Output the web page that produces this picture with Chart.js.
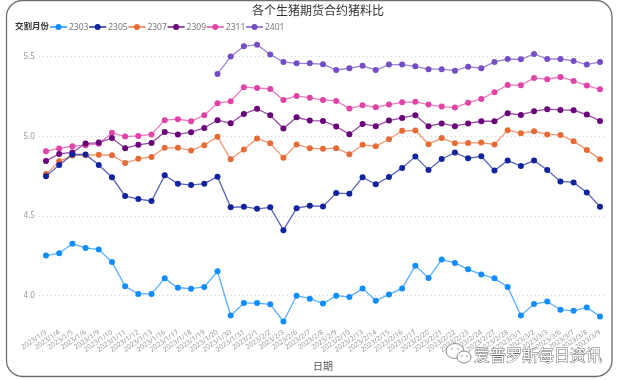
<!DOCTYPE html>
<html>
<head>
<meta charset="utf-8">
<script src="https://cdn.jsdelivr.net/npm/chart.js@4/dist/chart.umd.min.js"></script>
<style>
html,body{margin:0;padding:0;background:#fff;}
#wrap{position:relative;width:618px;height:380px;}
</style>
</head>
<body>
<div id="wrap"><canvas id="c" width="618" height="380"></canvas></div>
<script>
const categories = ["2023/1/3","2023/1/4","2023/1/5","2023/1/6","2023/1/9","2023/1/10","2023/1/11","2023/1/12","2023/1/13","2023/1/16","2023/1/17","2023/1/18","2023/1/19","2023/1/20","2023/1/30","2023/1/31","2023/2/1","2023/2/2","2023/2/3","2023/2/6","2023/2/7","2023/2/8","2023/2/9","2023/2/10","2023/2/13","2023/2/14","2023/2/15","2023/2/16","2023/2/17","2023/2/20","2023/2/21","2023/2/22","2023/2/23","2023/2/24","2023/2/27","2023/2/28","2023/3/1","2023/3/2","2023/3/3","2023/3/6","2023/3/7","2023/3/8","2023/3/9"];
const seriesNames = ["2303","2305","2307","2309","2311","2401"];
const s2303 = [4.252,4.267,4.326,4.300,4.290,4.212,4.059,4.011,4.011,4.109,4.050,4.044,4.055,4.153,3.876,3.954,3.954,3.946,3.838,4.000,3.981,3.951,4.000,3.992,4.046,3.968,4.008,4.046,4.189,4.111,4.227,4.206,4.166,4.134,4.109,4.055,3.876,3.948,3.963,3.912,3.905,3.926,3.869];
const s2305 = [4.750,4.821,4.887,4.887,4.821,4.744,4.626,4.607,4.595,4.756,4.704,4.695,4.704,4.748,4.555,4.559,4.546,4.555,4.412,4.550,4.565,4.561,4.645,4.641,4.744,4.700,4.746,4.803,4.874,4.790,4.859,4.899,4.863,4.876,4.786,4.849,4.815,4.849,4.790,4.718,4.712,4.649,4.559];
const s2307 = [4.764,4.845,4.881,4.883,4.885,4.883,4.833,4.860,4.872,4.929,4.929,4.912,4.946,4.998,4.858,4.918,4.987,4.958,4.866,4.950,4.927,4.923,4.927,4.889,4.948,4.939,4.983,5.036,5.038,4.952,4.990,4.958,4.960,4.962,4.950,5.040,5.021,5.033,5.013,5.010,4.971,4.916,4.858];
const s2309 = [4.847,4.891,4.900,4.956,4.962,4.990,4.927,4.948,4.960,5.029,5.013,5.027,5.054,5.103,5.084,5.142,5.174,5.134,5.050,5.121,5.100,5.098,5.063,5.015,5.079,5.065,5.100,5.117,5.134,5.065,5.082,5.065,5.082,5.096,5.096,5.146,5.136,5.159,5.172,5.167,5.165,5.138,5.098];
const s2311 = [4.908,4.925,4.939,4.946,4.954,5.023,5.000,5.004,5.013,5.103,5.109,5.096,5.134,5.209,5.222,5.310,5.305,5.299,5.230,5.255,5.243,5.230,5.224,5.176,5.197,5.184,5.201,5.215,5.218,5.201,5.188,5.182,5.213,5.236,5.278,5.324,5.322,5.368,5.360,5.374,5.349,5.320,5.297];
const s2401 = [null,null,null,null,null,null,null,null,null,null,null,null,null,5.393,5.502,5.567,5.577,5.515,5.469,5.460,5.460,5.454,5.418,5.429,5.444,5.418,5.452,5.452,5.441,5.423,5.423,5.414,5.439,5.429,5.469,5.487,5.485,5.519,5.487,5.487,5.475,5.452,5.469];
const yTicks = [4.0, 4.5, 5.0, 5.5];
const titleText = "各个生猪期货合约猪料比";
const legendTitle = "交割月份";
const xTitle = "日期";
const watermark = "爱普罗斯每日资讯";

const colors = ["#118DFF","#12239E","#E66C37","#6B007B","#E044A7","#744EC2"];
const allSeries = [s2303,s2305,s2307,s2309,s2311,s2401];
const FONT = "'Noto Sans','Noto Sans CJK SC',sans-serif";

function hexA(h,a){const r=parseInt(h.slice(1,3),16),g=parseInt(h.slice(3,5),16),b=parseInt(h.slice(5,7),16);return `rgba(${r},${g},${b},${a})`;}

const datasets = allSeries.map((d,i)=>({
  label: seriesNames[i],
  data: d,
  borderColor: hexA(colors[i],0.7),
  backgroundColor: colors[i],
  pointBackgroundColor: colors[i],
  pointBorderColor: colors[i],
  pointRadius: 3,
  pointBorderWidth: 0,
  borderWidth: 1.3,
  tension: 0,
  spanGaps: false
}));

const decor = {
  id: 'decor',
  beforeDraw(chart){
    const ctx = chart.ctx;
    ctx.save();
    ctx.fillStyle = '#fff';
    ctx.fillRect(0,0,chart.width,chart.height);
    ctx.restore();
  },
  afterDraw(chart){
    const ctx = chart.ctx;
    ctx.save();
    // frame
    ctx.strokeStyle = '#6e6e6e';
    ctx.lineWidth = 1.3;
    ctx.beginPath();
    ctx.roundRect(6.5, 0.5, 605.5, 376, 16);
    ctx.stroke();
    // title
    ctx.fillStyle = '#333';
    ctx.font = "12px " + FONT;
    ctx.textAlign = 'center';
    ctx.textBaseline = 'middle';
    ctx.fillText(titleText, 318, 12);
    // legend
    ctx.textAlign = 'left';
    ctx.font = "bold 8.5px " + FONT;
    ctx.fillStyle = '#333';
    ctx.fillText(legendTitle, 15, 27);
    ctx.font = "8.5px " + FONT;
    seriesNames.forEach((n,i)=>{
      const x = 50 + i*39.2;
      ctx.strokeStyle = colors[i];
      ctx.lineWidth = 1.4;
      ctx.beginPath(); ctx.moveTo(x,27); ctx.lineTo(x+17,27); ctx.stroke();
      ctx.fillStyle = colors[i];
      ctx.beginPath(); ctx.arc(x+8.5,27,3,0,Math.PI*2); ctx.fill();
      ctx.fillStyle = '#777';
      ctx.fillText(n, x+19, 27.5);
    });
    // watermark icon
    ctx.strokeStyle = '#888';
    ctx.fillStyle = 'rgba(255,255,255,0.9)';
    ctx.lineWidth = 1;
    ctx.beginPath(); ctx.ellipse(455,351,9,7.5,0,0,Math.PI*2); ctx.fill(); ctx.stroke();
    ctx.beginPath(); ctx.ellipse(464,357,7,6,0,0,Math.PI*2); ctx.fill(); ctx.stroke();
    ctx.fillStyle = '#888';
    [[452,349],[458,349],[462,356],[467,356]].forEach(p=>{ctx.beginPath();ctx.arc(p[0],p[1],0.8,0,Math.PI*2);ctx.fill();});
    // watermark text (outlined)
    ctx.font = "16px 'Noto Sans CJK SC',sans-serif";
    ctx.textBaseline = 'middle';
    ctx.lineWidth = 3;
    ctx.strokeStyle = 'rgba(255,255,255,0.95)';
    ctx.strokeText(watermark, 474, 355);
    ctx.lineWidth = 0.9;
    ctx.strokeStyle = '#666';
    ctx.strokeText(watermark, 474, 355);
    ctx.fillStyle = '#fff';
    ctx.fillText(watermark, 474, 355);
    ctx.restore();
  }
};

new Chart(document.getElementById('c'), {
  type: 'line',
  data: { labels: categories, datasets },
  plugins: [decor],
  options: {
    responsive: false,
    animation: false,
    layout: { padding: { top: 38, left: 0, right: 11.4, bottom: 4 } },
    plugins: { legend: { display: false }, tooltip: { enabled: false }, title: { display: false } },
    scales: {
      x: {
        type: 'category',
        offset: true,
        grid: { display: false, drawTicks: false },
        border: { display: false },
        ticks: { autoSkip: false, minRotation: 35, maxRotation: 35, color: '#999', font: { size: 7, family: FONT }, padding: 3 },
        title: { display: true, text: xTitle, color: '#555', font: { size: 10, family: "'Noto Sans CJK SC',sans-serif" }, padding: { top: 0, bottom: 4 } },
        afterFit(s){ s.height = 51; }
      },
      y: {
        min: 3.816,
        max: 5.619,
        afterBuildTicks(s){ s.ticks = yTicks.map(v=>({value:v})); },
        grid: { color: '#d6d6d6', lineWidth: 1, drawTicks: false },
        border: { display: false, dash: [1,3] },
        ticks: { color: '#999', font: { size: 8, family: FONT }, padding: 4.5, callback: v => v.toFixed(1) },
        afterFit(s){ s.width = 39.4; }
      }
    }
  }
});
</script>
</body>
</html>
